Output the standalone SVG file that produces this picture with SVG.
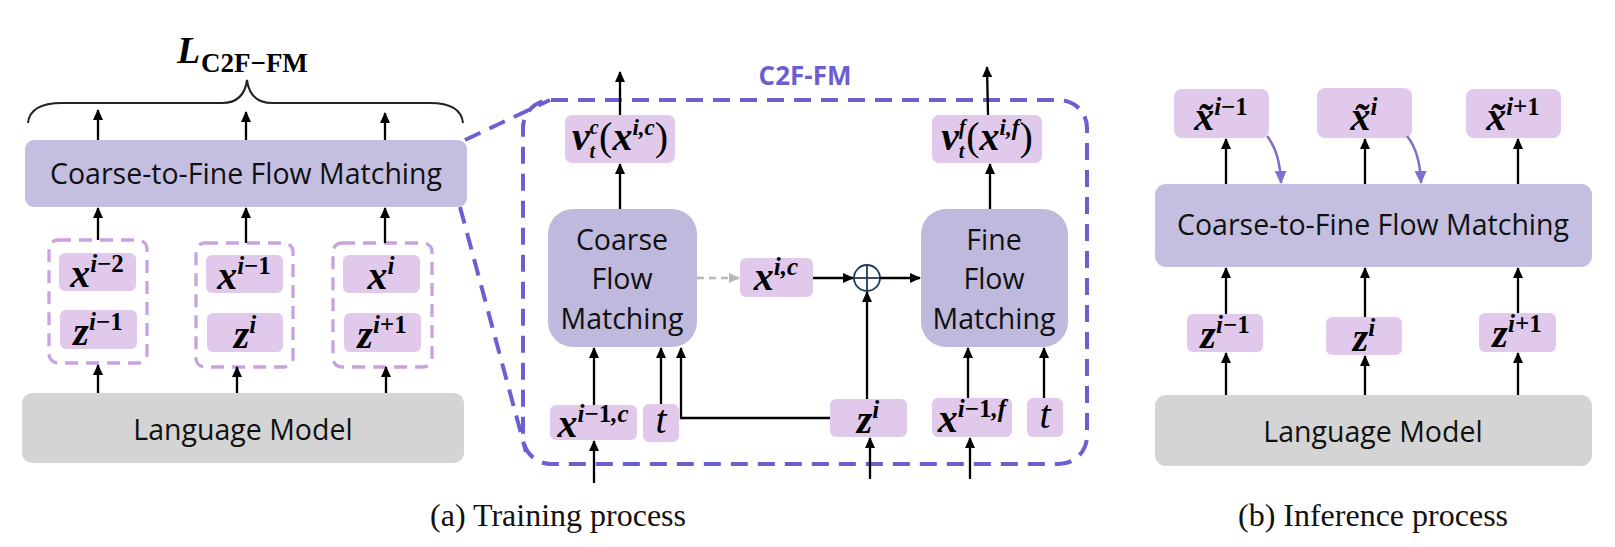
<svg xmlns="http://www.w3.org/2000/svg" width="1615" height="547" viewBox="0 0 1615 547">
<defs>
<style>
.sans{font-family:"Open Sans","Noto Sans",sans-serif;font-size:28.5px;fill:#111;text-anchor:middle}
.m{font-family:"Liberation Serif","Times New Roman",serif;font-weight:bold;font-style:italic;font-size:40px;fill:#000;text-anchor:middle}
.s{font-size:25px}
.ss{font-size:20px}
.sx{font-size:23px}
.u{font-style:normal}
.p{font-style:normal;font-weight:normal}
.t{font-weight:normal}
.big{fill:#c4bfe0}
.cf{fill:#bfb9de}
.lm{fill:#d4d4d4}
.lab{fill:#e0c9eb}
.grp{fill:none;stroke:#c9a3de;stroke-width:3.3;stroke-dasharray:13 8}
.zoom{fill:none;stroke:#6b60cf;stroke-width:4;stroke-dasharray:17 10}
.ln{fill:none;stroke:#000;stroke-width:2.3}
.arr{marker-end:url(#ah)}
.cap{font-family:"Liberation Serif","Times New Roman",serif;font-size:32px;fill:#111;text-anchor:middle}
</style>
<marker id="ah" markerUnits="userSpaceOnUse" markerWidth="12" markerHeight="12" viewBox="0 0 12 12" refX="10" refY="5" orient="auto">
<path d="M0,0 L11,5 L0,10 z" fill="#000"/>
</marker>
<marker id="ahg" markerUnits="userSpaceOnUse" markerWidth="12" markerHeight="12" viewBox="0 0 12 12" refX="10" refY="5" orient="auto">
<path d="M0,0 L11,5 L0,10 z" fill="#b8b8b8"/>
</marker>
<marker id="ahp" markerUnits="userSpaceOnUse" markerWidth="14" markerHeight="14" viewBox="0 0 14 14" refX="12" refY="6" orient="auto">
<path d="M0,0 L13,6 L0,12 z" fill="#7d70c9"/>
</marker>
</defs>
<rect width="1615" height="547" fill="#fff"/>

<!-- ===== (a) Training: left ===== -->
<g id="loss">
<text x="177" y="63" font-family="Liberation Serif, serif" font-weight="bold" font-style="italic" font-size="38" fill="#000">L</text>
<text x="201" y="72" font-family="Liberation Serif, serif" font-weight="bold" font-size="27" fill="#000">C2F−FM</text>
</g>
<g id="cfm-left">
<rect class="big" x="25" y="140" width="442" height="67" rx="9"/>
<text class="sans" x="246" y="184">Coarse-to-Fine Flow Matching</text>
</g>
<g id="lm-left">
<rect class="lm" x="22" y="393" width="442" height="70" rx="10"/>
<text class="sans" x="243" y="440">Language Model</text>
</g>
<g id="group1">
<rect class="grp" x="49" y="240" width="98" height="123" rx="9"/>
<rect class="lab" x="59" y="253" width="77" height="38" rx="6"/>
<text class="m" x="97" y="287">x<tspan class="s" dy="-15">i<tspan class="u">−2</tspan></tspan></text>
<rect class="lab" x="60" y="310" width="77" height="39" rx="6"/>
<text class="m" x="98" y="345">z<tspan class="s" dy="-15">i<tspan class="u">−1</tspan></tspan></text>
</g>
<g id="group2">
<rect class="grp" x="196" y="243" width="97" height="124" rx="9"/>
<rect class="lab" x="206" y="255" width="77" height="38" rx="6"/>
<text class="m" x="244" y="289">x<tspan class="s" dy="-15">i<tspan class="u">−1</tspan></tspan></text>
<rect class="lab" x="207" y="313" width="76" height="39" rx="6"/>
<text class="m" x="245" y="348">z<tspan class="s" dy="-15">i</tspan></text>
</g>
<g id="group3">
<rect class="grp" x="333" y="243" width="99" height="124" rx="9"/>
<rect class="lab" x="343" y="255" width="77" height="38" rx="6"/>
<text class="m" x="381" y="289">x<tspan class="s" dy="-15">i</tspan></text>
<rect class="lab" x="344" y="313" width="77" height="39" rx="6"/>
<text class="m" x="382" y="348">z<tspan class="s" dy="-15">i<tspan class="u">+1</tspan></tspan></text>
</g>

<!-- ===== (a) Training: C2F-FM detail ===== -->
<g id="c2f-frame">
<rect class="zoom" x="523" y="100" width="564" height="364" rx="28"/>
<text x="805" y="85" font-family="Open Sans, Noto Sans, sans-serif" font-weight="bold" font-size="26" fill="#6b5fcf" text-anchor="middle">C2F-FM</text>
</g>
<g id="vc">
<rect class="lab" x="565" y="115" width="110" height="48" rx="7"/>
<text class="m" x="620" y="150">v<tspan class="ss" dy="-16">c</tspan><tspan class="ss" dx="-9" dy="24">t</tspan><tspan class="p" dx="4" dy="-8">(</tspan>x<tspan class="sx" dy="-15">i,c</tspan><tspan class="p" dy="15">)</tspan></text>
</g>
<g id="vf">
<rect class="lab" x="932" y="115" width="110" height="48" rx="7"/>
<text class="m" x="987" y="150">v<tspan class="ss" dy="-16">f</tspan><tspan class="ss" dx="-7" dy="24">t</tspan><tspan class="p" dx="2" dy="-8">(</tspan>x<tspan class="sx" dy="-15">i,f</tspan><tspan class="p" dy="15">)</tspan></text>
</g>
<g id="coarse">
<rect class="cf" x="548" y="209" width="149" height="138" rx="25"/>
<text class="sans" x="622" y="250">Coarse</text>
<text class="sans" x="622" y="289">Flow</text>
<text class="sans" x="622" y="329">Matching</text>
</g>
<g id="fine">
<rect class="cf" x="921" y="209" width="147" height="138" rx="25"/>
<text class="sans" x="994" y="250">Fine</text>
<text class="sans" x="994" y="289">Flow</text>
<text class="sans" x="994" y="329">Matching</text>
</g>
<g id="xic">
<rect class="lab" x="740" y="258" width="73" height="39" rx="6"/>
<text class="m" x="776" y="290">x<tspan class="s" dy="-15">i,c</tspan></text>
</g>
<g id="oplus">
<circle cx="867" cy="278" r="13" fill="#fff" stroke="#1f3a5f" stroke-width="1.8"/>
<line x1="854" y1="278" x2="880" y2="278" stroke="#1f3a5f" stroke-width="1.8"/>
<line x1="867" y1="265" x2="867" y2="291" stroke="#1f3a5f" stroke-width="1.8"/>
</g>
<g id="xprev-c">
<rect class="lab" x="550" y="405" width="87" height="35" rx="6"/>
<text class="m" x="593" y="437">x<tspan class="s" dy="-15">i<tspan class="u">−1</tspan>,c</tspan></text>
</g>
<g id="t-c">
<rect class="lab" x="643" y="404" width="36" height="38" rx="6"/>
<text class="m t" x="661" y="433">t</text>
</g>
<g id="zi-mid">
<rect class="lab" x="830" y="399" width="77" height="38" rx="6"/>
<text class="m" x="868" y="433">z<tspan class="s" dy="-15">i</tspan></text>
</g>
<g id="xprev-f">
<rect class="lab" x="932" y="398" width="80" height="39" rx="6"/>
<text class="m" x="972" y="432">x<tspan class="s" dy="-15">i<tspan class="u">−1</tspan>,f</tspan></text>
</g>
<g id="t-f">
<rect class="lab" x="1027" y="398" width="36" height="39" rx="6"/>
<text class="m t" x="1045" y="428">t</text>
</g>

<!-- ===== (b) Inference ===== -->
<g id="cfm-right">
<rect class="big" x="1155" y="184" width="437" height="83" rx="11"/>
<text class="sans" x="1373" y="235">Coarse-to-Fine Flow Matching</text>
</g>
<g id="lm-right">
<rect class="lm" x="1155" y="395" width="437" height="71" rx="11"/>
<text class="sans" x="1373" y="442">Language Model</text>
</g>
<g id="xt1">
<rect class="lab" x="1174" y="89" width="95" height="49" rx="8"/>
<text class="m" x="1221" y="130">x̃<tspan class="s" dy="-15">i<tspan class="u">−1</tspan></tspan></text>
</g>
<g id="xt2">
<rect class="lab" x="1317" y="88" width="95" height="50" rx="8"/>
<text class="m" x="1364" y="130">x̃<tspan class="s" dy="-15">i</tspan></text>
</g>
<g id="xt3">
<rect class="lab" x="1466" y="89" width="95" height="49" rx="8"/>
<text class="m" x="1513" y="130">x̃<tspan class="s" dy="-15">i<tspan class="u">+1</tspan></tspan></text>
</g>
<g id="zr1">
<rect class="lab" x="1187" y="314" width="76" height="38" rx="6"/>
<text class="m" x="1225" y="348">z<tspan class="s" dy="-15">i<tspan class="u">−1</tspan></tspan></text>
</g>
<g id="zr2">
<rect class="lab" x="1326" y="317" width="76" height="38" rx="6"/>
<text class="m" x="1364" y="351">z<tspan class="s" dy="-15">i</tspan></text>
</g>
<g id="zr3">
<rect class="lab" x="1479" y="313" width="77" height="39" rx="6"/>
<text class="m" x="1517" y="347">z<tspan class="s" dy="-15">i<tspan class="u">+1</tspan></tspan></text>
</g>

<!-- captions -->
<text class="cap" x="558" y="526">(a) Training process</text>
<text class="cap" x="1373" y="526">(b) Inference process</text>

<!-- ===== connectors ===== -->
<g id="connectors">
<path d="M28,123 Q30,103 62,103 L222,103 Q244,103 247,80 Q250,103 272,103 L430,103 Q461,103 463,123" fill="none" stroke="#222" stroke-width="2"/>
<line class="zoom" x1="465" y1="140" x2="550" y2="100"/>
<line class="zoom" x1="460" y1="207" x2="526" y2="452"/>

<line class="ln arr" x1="98" y1="140" x2="98" y2="110"/>
<line class="ln arr" x1="246" y1="140" x2="246" y2="112"/>
<line class="ln arr" x1="385" y1="140" x2="385" y2="113"/>
<line class="ln arr" x1="98" y1="240" x2="98" y2="208"/>
<line class="ln arr" x1="246" y1="243" x2="246" y2="208"/>
<line class="ln arr" x1="385" y1="243" x2="385" y2="208"/>
<line class="ln arr" x1="98" y1="393" x2="98" y2="365"/>
<line class="ln arr" x1="237" y1="393" x2="237" y2="367"/>
<line class="ln arr" x1="386" y1="393" x2="386" y2="367"/>

<line class="ln arr" x1="620" y1="115" x2="620" y2="72"/>
<line class="ln arr" x1="988" y1="115" x2="987" y2="67"/>
<line class="ln arr" x1="620" y1="209" x2="620" y2="164"/>
<line class="ln arr" x1="990" y1="209" x2="990" y2="164"/>
<line x1="697" y1="278" x2="739" y2="278" stroke="#b8b8b8" stroke-width="2.3" stroke-dasharray="7 5" marker-end="url(#ahg)"/>
<line class="ln arr" x1="813" y1="278" x2="853" y2="278"/>
<line class="ln arr" x1="880" y1="278" x2="920" y2="278"/>
<line class="ln arr" x1="867" y1="399" x2="867" y2="292"/>
<polyline class="ln arr" points="830,418 681,418 681,348"/>
<line class="ln arr" x1="594" y1="405" x2="594" y2="348"/>
<line class="ln arr" x1="661" y1="404" x2="661" y2="348"/>
<line class="ln arr" x1="968" y1="398" x2="968" y2="348"/>
<line class="ln arr" x1="1044" y1="398" x2="1044" y2="348"/>
<line class="ln arr" x1="594" y1="483" x2="594" y2="441"/>
<line class="ln arr" x1="870" y1="479" x2="870" y2="438"/>
<line class="ln arr" x1="970" y1="479" x2="970" y2="438"/>

<line class="ln arr" x1="1226" y1="395" x2="1226" y2="353"/>
<line class="ln arr" x1="1365" y1="395" x2="1365" y2="356"/>
<line class="ln arr" x1="1518" y1="395" x2="1518" y2="353"/>
<line class="ln arr" x1="1226" y1="314" x2="1226" y2="268"/>
<line class="ln arr" x1="1365" y1="317" x2="1365" y2="268"/>
<line class="ln arr" x1="1518" y1="313" x2="1518" y2="268"/>
<line class="ln arr" x1="1226" y1="184" x2="1226" y2="139"/>
<line class="ln arr" x1="1365" y1="184" x2="1365" y2="139"/>
<line class="ln arr" x1="1518" y1="184" x2="1518" y2="139"/>
<path d="M1267,136 Q1280,152 1281,183" fill="none" stroke="#7d70c9" stroke-width="2.5" marker-end="url(#ahp)"/>
<path d="M1407,136 Q1420,152 1421,183" fill="none" stroke="#7d70c9" stroke-width="2.5" marker-end="url(#ahp)"/>
</g>
</svg>
